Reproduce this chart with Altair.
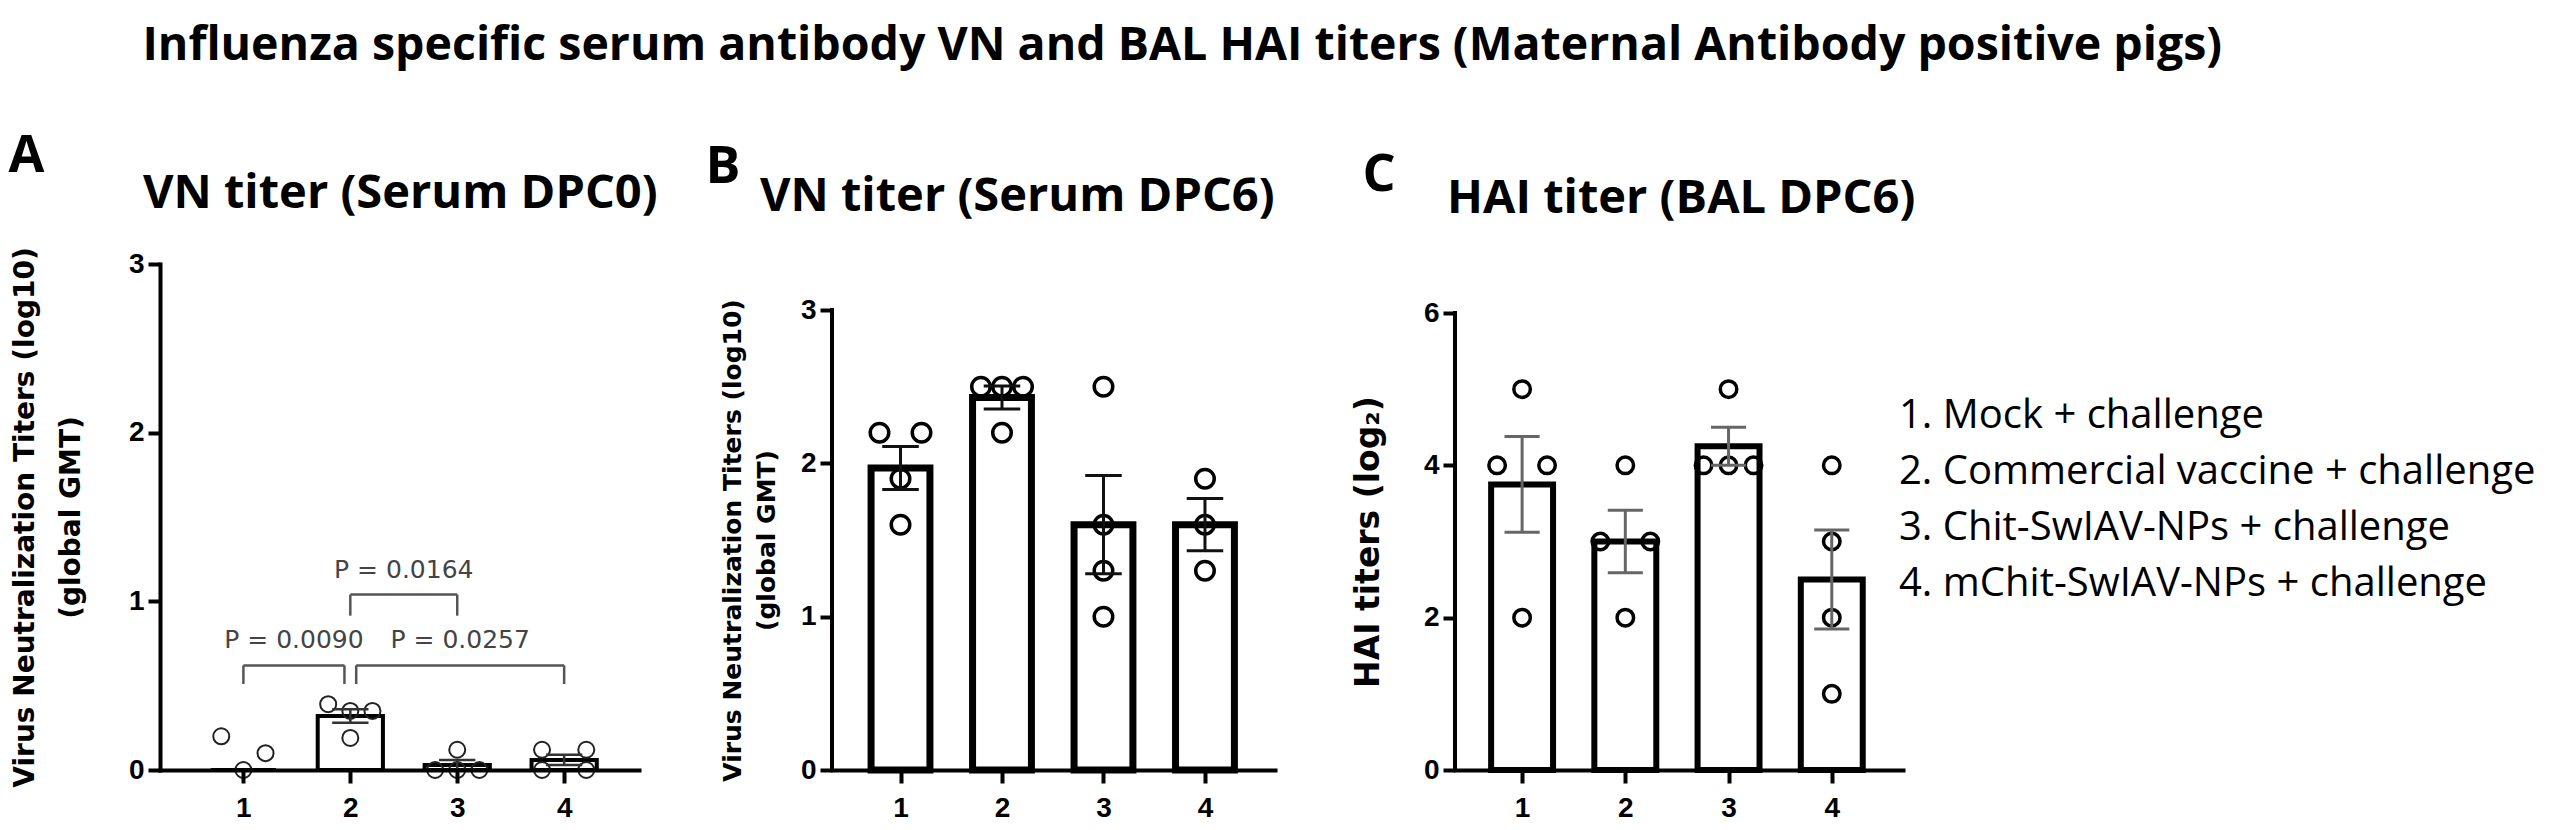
import altair as alt
import pandas as pd

# ---------------- data ----------------
GROUPS = [1, 2, 3, 4]
TITLE = "Influenza specific serum antibody VN and BAL HAI titers (Maternal Antibody positive pigs)"
LEGEND_LABELS = [
    "1. Mock + challenge",
    "2. Commercial vaccine + challenge",
    "3. Chit-SwIAV-NPs + challenge",
    "4. mChit-SwIAV-NPs + challenge",
]

# Panel A : VN titer (Serum DPC0)
A_POINTS = [[0.20, 0.00, 0.10], [0.39, 0.35, 0.35, 0.19], [0.12, 0.00, 0.00, 0.00], [0.12, 0.12, 0.00, 0.00]]
A_MEAN = [0.00, 0.32, 0.03, 0.06]
A_SEM = [0.00, 0.04, 0.03, 0.03]
A_BRACKET_FROM = [1, 2, 2]
A_BRACKET_TO = [2, 4, 3]
A_BRACKET_Y = [0.62, 0.62, 1.04]
A_BRACKET_DROP = [0.11, 0.11, 0.125]
A_BRACKET_P = ["P = 0.0090", "P = 0.0257", "P = 0.0164"]

# Panel B : VN titer (Serum DPC6)
B_POINTS = [[2.2, 2.2, 1.9, 1.6], [2.5, 2.5, 2.5, 2.2], [2.5, 1.6, 1.3, 1.0], [1.9, 1.6, 1.3]]
B_MEAN = [1.97, 2.43, 1.60, 1.60]
B_SEM = [0.14, 0.075, 0.32, 0.17]

# Panel C : HAI titer (BAL DPC6)
C_POINTS = [[5, 4, 4, 2], [4, 3, 3, 2], [5, 4, 4, 4], [4, 3, 2, 1]]
C_MEAN = [3.75, 3.00, 4.25, 2.50]
C_SEM = [0.63, 0.41, 0.25, 0.65]

HEAD_FONT = "Open Sans"
AXIS_FONT = "Liberation Sans"
AXTITLE_FONT = "DejaVu Sans"
PLOT_H = 506


# ---------------- helpers ----------------
def jitter_df(points, d_units, px_per_unit, diam):
    """Spread overlapping points of a group sideways (column-scatter layout)."""
    rows = []
    for g, vals in zip(GROUPS, points):
        order = sorted(range(len(vals)), key=lambda i: vals[i])
        clusters = []
        for i in order:
            if clusters and (vals[i] - vals[clusters[-1][-1]]) * px_per_unit < diam:
                clusters[-1].append(i)
            else:
                clusters.append([i])
        for cl in clusters:
            cl.sort()
            n = len(cl)
            h = n // 2
            if n % 2:
                slots = list(range(-h, h + 1))
            else:
                slots = list(range(-h, 0)) + list(range(1, h + 1))
            for s, i in zip(slots, cl):
                rows.append({"g": g, "value": vals[i], "xpos": g + s * d_units})
    return pd.DataFrame(rows)


def summary_df(means, sems, half, cap):
    d = pd.DataFrame({"g": GROUPS, "mean": means, "sem": sems})
    d["xl"] = d["g"] - half
    d["xr"] = d["g"] + half
    d["lo"] = d["mean"] - d["sem"]
    d["hi"] = d["mean"] + d["sem"]
    d["cl"] = d["g"] - cap
    d["cr"] = d["g"] + cap
    return d


def make_panel(p, extra_inner=(), legend=None):
    H = PLOT_H
    top_gap = p["top_gap"]                      # empty room above the axis top, px
    ytop = p["yticks"][-1]
    ymax = ytop * H / (H - top_gap)             # scale domain so the axis top sits top_gap px lower
    xs = alt.Scale(domain=p["xdom"], nice=False, zero=False)
    ys = alt.Scale(domain=[0, ymax], nice=False, zero=True)
    xaxis = alt.Axis(values=GROUPS, format="d", title=None, grid=False,
                     domainWidth=4, domainColor="black", domainCap="square",
                     tickWidth=4, tickColor="black", tickSize=13,
                     labelFont=AXIS_FONT, labelFontWeight="bold", labelFontSize=28,
                     labelColor="black", labelPadding=11, zindex=1)
    yaxis_kw = dict(values=p["yticks"], format="d", title=p["ytitle"], grid=False,
                    domain=(top_gap == 0),
                    domainWidth=4, domainColor="black", domainCap="square",
                    tickWidth=4, tickColor="black", tickSize=12,
                    labelFont=AXIS_FONT, labelFontWeight="bold", labelFontSize=28,
                    labelColor="black", labelPadding=4,
                    titleFont=AXTITLE_FONT, titleFontWeight="bold",
                    titleFontSize=p["yt_size"], titleColor="black",
                    titlePadding=p["yt_pad"], titleLineHeight=p["yt_lh"], zindex=1)
    if top_gap:
        yaxis_kw["titleY"] = (top_gap + H) / 2
    yaxis = alt.Axis(**yaxis_kw)

    def X(f):
        return alt.X(f + ":Q", scale=xs, axis=xaxis)

    def Y(f):
        return alt.Y(f + ":Q", scale=ys, axis=yaxis)

    summ = summary_df(p["mean"], p["sem"], p["half"], p["cap"])
    jdf = jitter_df(p["points"], p["jit"], H / ymax, p["diam"])

    bars = alt.Chart(summ).mark_rect(fill="white", stroke="black", strokeWidth=p["bar_sw"]).encode(
        x=X("xl"), x2="xr", y=Y("mean"), y2=alt.datum(0))
    pts = alt.Chart(jdf).mark_point(shape="circle", filled=False, size=p["pt_size"],
                                    strokeWidth=p["pt_sw"], color=p["pt_color"], opacity=1).encode(
        x=X("xpos"), y=Y("value"))
    errbase = alt.Chart(summ).transform_filter("datum.sem > 0")
    err = errbase.mark_rule(color=p["err_color"], strokeWidth=p["err_sw"]).encode(
        x=X("g"), y=Y("lo"), y2="hi")
    cap_hi = errbase.mark_rule(color=p["err_color"], strokeWidth=p["err_sw"]).encode(
        x=X("cl"), x2="cr", y=Y("hi"))
    cap_lo = errbase.mark_rule(color=p["err_color"], strokeWidth=p["err_sw"]).encode(
        x=X("cl"), x2="cr", y=Y("lo"))
    sub = alt.Chart(pd.DataFrame({"t": [p["subtitle"]]})).mark_text(
        align="left", baseline="alphabetic", font=HEAD_FONT, fontWeight="bold",
        fontSize=47, color="black").encode(
        text="t:N", x=alt.value(p["sub_x"]), y=alt.value(p["sub_y"]))

    layers = [bars, pts, err, cap_hi, cap_lo, sub]
    if top_gap:
        # y axis line only from 0 up to the top tick
        axis_line = alt.Chart(pd.DataFrame({"a": [0], "b": [ytop]})).mark_rule(
            color="black", strokeWidth=4, strokeCap="square").encode(
            x=alt.X("x0:Q", scale=xs, axis=xaxis), y=Y("a"), y2="b"
        ).transform_calculate(x0=str(p["xdom"][0]))
        layers.append(axis_line)
    for make in extra_inner:
        layers += make(X, Y)
    inner = alt.layer(*layers)
    if legend is not None:
        chart = alt.layer(inner, legend).resolve_scale(y="independent")
    else:
        chart = inner
    return chart.properties(
        width=p["width"], height=H,
        title=alt.TitleParams(p["letter"], anchor="start", font=HEAD_FONT, fontWeight="bold",
                              fontSize=52, color="black", dx=p["l_dx"], offset=p["l_off"]))


def brackets_A(X, Y):
    rows, legs = [], []
    gap = 0.055
    n = len(A_BRACKET_FROM)
    for i in range(n):
        f, t, y = A_BRACKET_FROM[i], A_BRACKET_TO[i], A_BRACKET_Y[i]
        x1, x2 = float(f), float(t)
        for j in range(n):
            if j != i and A_BRACKET_Y[j] == y:
                if t == A_BRACKET_FROM[j]:
                    x2 -= gap
                if f == A_BRACKET_TO[j]:
                    x1 += gap
        lo = y - A_BRACKET_DROP[i]
        rows.append({"x1": x1, "x2": x2, "y": y, "mid": (x1 + x2) / 2, "p": A_BRACKET_P[i]})
        legs.append({"x": x1, "lo": lo, "y": y})
        legs.append({"x": x2, "lo": lo, "y": y})
    bd = pd.DataFrame(rows)
    ld = pd.DataFrame(legs)
    hline = alt.Chart(bd).mark_rule(color="#555", strokeWidth=2.5).encode(
        x=X("x1"), x2="x2", y=Y("y"))
    vline = alt.Chart(ld).mark_rule(color="#555", strokeWidth=2.5).encode(
        x=X("x"), y=Y("lo"), y2="y")
    txt = alt.Chart(bd).mark_text(font=AXTITLE_FONT, fontSize=25, color="#444",
                                  baseline="alphabetic", align="center", dy=-17).encode(
        x=X("mid"), y=Y("y"), text="p:N")
    return [hline, vline, txt]


VN_TITLE = ["Virus Neutralization Titers (log10)", "(global GMT)"]

pA = dict(points=A_POINTS, mean=A_MEAN, sem=A_SEM, width=479, top_gap=0, xdom=[0.22, 4.70],
          yticks=[0, 1, 2, 3], ytitle=VN_TITLE, yt_size=28, yt_lh=46, yt_pad=43,
          letter="A", l_dx=-3, l_off=-13, subtitle="VN titer (Serum DPC0)", sub_x=-17, sub_y=-56,
          half=0.305, bar_sw=4, cap=0.17, err_color="#333", err_sw=2.5,
          pt_size=256, pt_sw=2, pt_color="#222", jit=0.207, diam=18)
pB = dict(points=B_POINTS, mean=B_MEAN, sem=B_SEM, width=443, top_gap=46, xdom=[0.325, 4.69],
          yticks=[0, 1, 2, 3], ytitle=VN_TITLE, yt_size=25, yt_lh=34, yt_pad=21,
          letter="B", l_dx=-15, l_off=-21, subtitle="VN titer (Serum DPC6)", sub_x=-72, sub_y=-53,
          half=0.29, bar_sw=7, cap=0.18, err_color="#111", err_sw=3,
          pt_size=342, pt_sw=3.5, pt_color="black", jit=0.207, diam=22)
pC = dict(points=C_POINTS, mean=C_MEAN, sem=C_SEM, width=448, top_gap=49, xdom=[0.35, 4.69],
          yticks=[0, 2, 4, 6], ytitle="HAI titers (log\u2082)", yt_size=33, yt_lh=34, yt_pad=38,
          letter="C", l_dx=10, l_off=-27, subtitle="HAI titer (BAL DPC6)", sub_x=-8, sub_y=-51,
          half=0.30, bar_sw=6, cap=0.17, err_color="#666", err_sw=3,
          pt_size=272, pt_sw=3.5, pt_color="black", jit=0.242, diam=20)

legend_df = pd.DataFrame({"row": [1, 2, 3, 4], "label": LEGEND_LABELS})
legend = alt.Chart(legend_df).mark_text(align="left", baseline="middle", font=HEAD_FONT,
                                        fontSize=40, color="black").encode(
    x=alt.value(444),
    y=alt.Y("row:O", scale=alt.Scale(type="point", range=[152, 320], padding=0), axis=None),
    text="label:N")

panelA = make_panel(pA, extra_inner=[brackets_A])
panelB = make_panel(pB)
panelC = make_panel(pC, legend=legend)

chart = alt.hconcat(alt.hconcat(panelA, panelB, spacing=47), panelC, spacing=77).properties(
    title=alt.TitleParams(TITLE, anchor="start", dx=134, font=HEAD_FONT, fontSize=46.5,
                          fontWeight="bold", color="black", offset=61),
    padding={"left": 0, "top": 14, "right": 0, "bottom": 0},
).configure_view(stroke=None)

chart.save("out.html", embed_options={"renderer": "svg", "actions": False})
